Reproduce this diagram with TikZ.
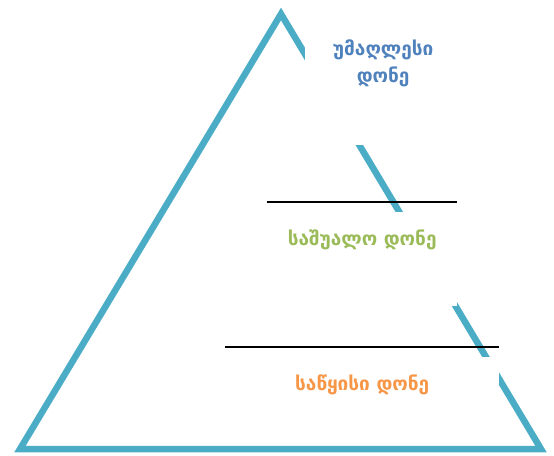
\documentclass[tikz,border=0pt]{standalone}
\usepackage{fontspec}
\newfontfamily\geofont{DejaVu Sans}
\usetikzlibrary{positioning}
\definecolor{pyramid}{HTML}{4BACC6}
\definecolor{topblue}{HTML}{4F81BD}
\definecolor{midgreen}{HTML}{9BBB59}
\definecolor{baseorange}{HTML}{F79646}
\tikzset{
  lvlbox/.style={fill=white, inner sep=0pt, anchor=north west},
  lvltext/.style={font=\geofont\bfseries\fontsize{19}{27}\selectfont, align=center, inner sep=0pt},
  sepline/.style={black, line width=2.2pt}
}
\begin{document}
\begin{tikzpicture}[x=1pt, y=-1pt]
\useasboundingbox (0,0) rectangle (554,455);
% pyramid outline
\coordinate (apex) at (281,14);
\coordinate (baseL) at (20,449);
\coordinate (baseR) at (541,449);
\draw[pyramid, line width=6.5pt, miter limit=10] (apex) -- (baseL) -- (baseR) -- cycle;
% level boxes
\node[lvlbox, minimum width=156pt, minimum height=125pt] (box1) at (305,20) {};
\node[lvlbox, minimum width=190pt, minimum height=94pt] (box2) at (267,212) {};
\node[lvlbox, minimum width=274pt, minimum height=60pt] (box3) at (225,357) {};
% separators
\draw[sepline] ([yshift=10pt]box2.north west) -- ([yshift=10pt]box2.north east);
\draw[sepline] ([yshift=10pt]box3.north west) -- ([yshift=10pt]box3.north east);
% labels
\node[lvltext, text=topblue] (txt1) at ([yshift=-43pt]box1.north) {უმაღლესი\\დონე};
\node[lvltext, text=midgreen] (txt2) at ([yshift=-28pt]box2.north) {საშუალო დონე};
\node[lvltext, text=baseorange] (txt3) at ([yshift=-28pt]box3.north) {საწყისი დონე};
\end{tikzpicture}
\end{document}
